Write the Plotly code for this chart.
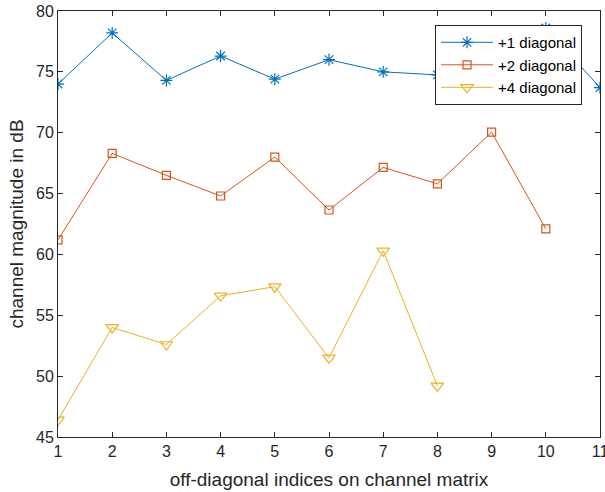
import plotly.graph_objects as go

x1 = [1, 2, 3, 4, 5, 6, 7, 8, 9, 10, 11]
d1 = [74.0, 78.2, 74.3, 76.3, 74.4, 76.0, 75.0, 74.75, 76.5, 78.6, 73.7]
x2 = [1, 2, 3, 4, 5, 6, 7, 8, 9, 10]
d2 = [61.2, 68.3, 66.5, 64.8, 68.0, 63.65, 67.15, 65.8, 70.05, 62.1]
x4 = [1, 2, 3, 4, 5, 6, 7, 8]
d4 = [46.4, 54.0, 52.6, 56.6, 57.35, 51.5, 60.3, 49.2]
names = ["+1 diagonal", "+2 diagonal", "+4 diagonal"]
xticks = list(range(1, 12))
yticks = [45, 50, 55, 60, 65, 70, 75, 80]

FONT = "Liberation Sans, Arial, sans-serif"
AX = "#262626"

fig = go.Figure()
fig.add_trace(go.Scatter(x=x1, y=d1, name=names[0], mode="lines+markers",
                         line=dict(color="#0072BD", width=1),
                         marker=dict(symbol="asterisk-open", size=10,
                                     line=dict(color="#0072BD", width=1.2))))
fig.add_trace(go.Scatter(x=x2, y=d2, name=names[1], mode="lines+markers",
                         line=dict(color="#D95319", width=1),
                         marker=dict(symbol="square-open", size=8, color="#D95319",
                                     line=dict(color="#D95319", width=1.2))))
fig.add_trace(go.Scatter(x=x4, y=d4, name=names[2], mode="lines+markers",
                         line=dict(color="#EDB120", width=1),
                         marker=dict(symbol="triangle-down-open", size=11, color="#EDB120",
                                     line=dict(color="#EDB120", width=1.2))))

axis_common = dict(showgrid=False, zeroline=False, showline=True, linecolor=AX,
                   linewidth=1, mirror="ticks", ticks="inside", ticklen=5,
                   tickcolor=AX, automargin=False, ticklabeloverflow="allow",
                   tickfont=dict(family=FONT, size=16, color=AX))
fig.update_xaxes(range=[1, 11], tickvals=xticks,
                 title=dict(text="off-diagonal indices on channel matrix",
                            font=dict(family=FONT, size=19, color=AX), standoff=13),
                 **axis_common)
fig.update_yaxes(range=[45, 80], tickvals=yticks,
                 title=dict(text="channel magnitude in dB",
                            font=dict(family=FONT, size=19, color=AX), standoff=7),
                 **axis_common)
fig.update_layout(width=605, height=492, margin=dict(l=58, r=5, t=11, b=55),
                  plot_bgcolor="white", paper_bgcolor="white",
                  font=dict(family=FONT, color=AX),
                  legend=dict(x=0.6956, y=0.967, xanchor="left", yanchor="top",
                              bgcolor="white", bordercolor=AX, borderwidth=1,
                              font=dict(family=FONT, size=15, color="#000000"),
                              tracegroupgap=0, itemwidth=52))
fig.write_html("out.html", config={"displayModeBar": False},
               post_script="document.body.style.margin='0';document.body.style.padding='0';")
